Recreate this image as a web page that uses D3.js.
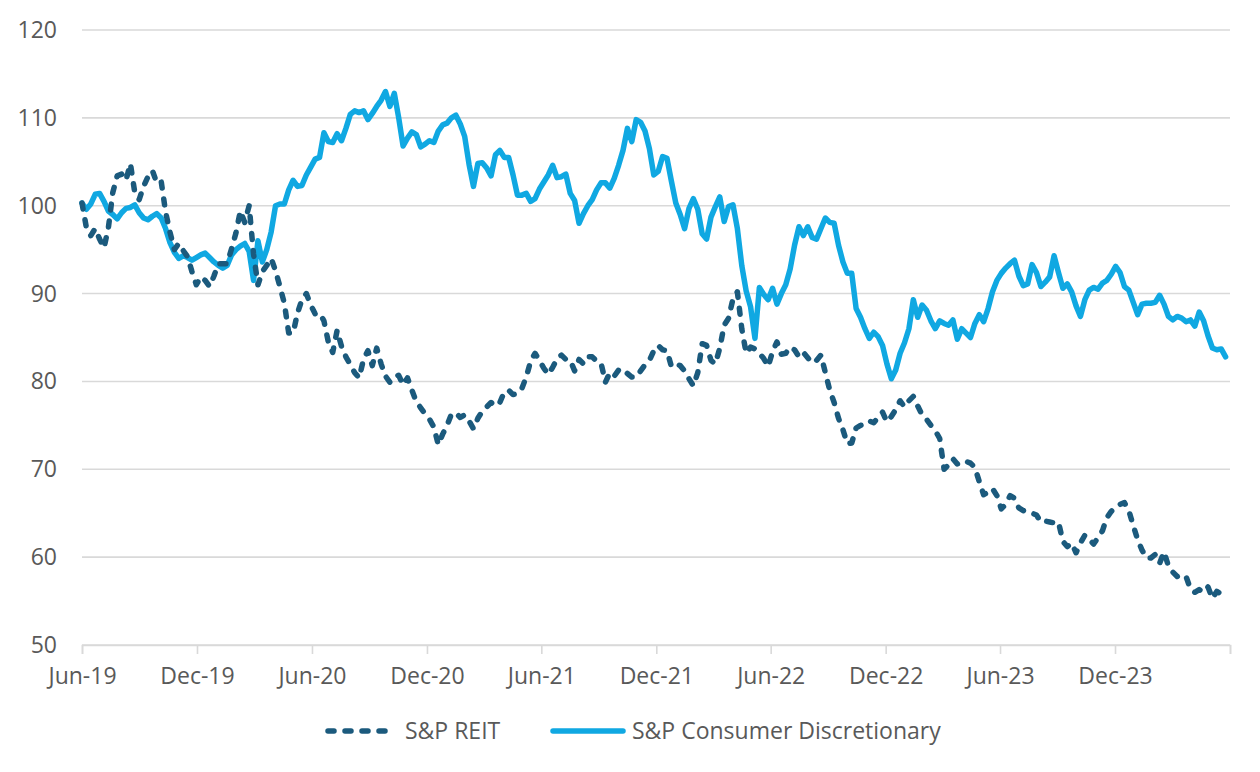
<!DOCTYPE html>
<html>
<head>
<meta charset="utf-8">
<script src="https://cdn.jsdelivr.net/npm/d3@7"></script>
<style>
  html, body { margin: 0; padding: 0; background: #ffffff; }
  svg { display: block; }
  text { font-family: "Open Sans", "Liberation Sans", Arial, sans-serif; fill: #595959; }
</style>
</head>
<body>
<svg id="chart" width="1260" height="772"></svg>
<script>
// ---------- DATA (weekly observations, first week = Jun 2019) ----------
const startDateStr = "2019-06-01";
const seriesNames = ["S&P REIT", "S&P Consumer Discretionary"];
const xTickLabels = ["Jun-19","Dec-19","Jun-20","Dec-20","Jun-21","Dec-21","Jun-22","Dec-22","Jun-23","Dec-23",""];
const yTickValues = [50, 60, 70, 80, 90, 100, 110, 120];

const reitValues = [
100.3,97.5,96.6,97.4,96.2,95.2,97.5,101.5,103.4,103.6,
102.9,104.8,101.5,100.7,102.2,103.3,104,102.6,102.8,99.3,
97,95,95.7,94.9,94.2,92.5,91,91.9,91.5,90.8,
92,93.4,93.4,93.4,95.1,96.9,99.4,98.1,100,94.5,
91,92.5,93.2,94,92.6,90.8,88.9,85.5,85.5,87.8,
89.3,90,88.7,87.7,87.8,86.9,84.5,83.3,85.8,84,
82.8,81.9,81,80.4,82.5,83.5,81.8,83.8,82,80.6,
79.9,80.5,80.7,79.6,80.4,79,77.7,77,76.3,75.7,
74.8,72.8,74,75,76.3,76.4,75.9,76.2,75.5,74.6,
75.8,76.6,77.1,77.6,77.2,77.6,78.8,79,78.5,78.6,
79.2,80.5,82.3,83.2,82.4,81.5,80.8,81.6,82.6,83,
82.5,82.4,81.2,82.5,82,82.8,82.8,82.3,82.1,79.9,
81,80.6,81.3,81.4,80.9,80.5,80.5,81.2,81.9,82.4,
83.5,84.1,83.6,83.5,81.7,82,81.8,81.2,80.3,79.5,
81,84.3,84.1,82.4,82,83.8,86.4,87.2,89.4,90.2,
86,83.2,83.9,83.7,83.2,82.6,81.7,83.4,84.5,83.1,
83.2,83.9,83.6,82.8,83.3,82.7,82.1,82.4,83,81,
79,77.6,75.8,74.5,72.9,73,74.7,75,75.1,75.5,
75.3,75.9,76.5,75.4,76,76.8,77.8,77.1,77.8,78.3,
77.2,76.2,75.7,75,74.4,73.5,70,70.5,71.2,70.6,
70.9,70.9,70.7,70.2,68.6,67.1,67.4,67.8,67,65.5,
66,67,66.7,65.6,65.3,65.1,65,64.8,64,64.1,
64,63.9,64,61.8,61.2,61.6,60.5,61.6,62.5,62,
61.5,62.2,63,64.5,65.2,65.7,66,66.2,65.3,63.6,
62,60.8,59.9,59.9,60.3,59.3,60.6,59,58.3,57.8,
58,57.8,56.4,56,56.3,56,56.6,55.3,56.1,55.8,
55.4
];

const discValues = [
100.3,99.6,100.2,101.3,101.4,100.5,99.4,99,98.5,99.2,
99.7,99.8,100.1,99.2,98.6,98.4,98.8,99.1,98.6,97.4,
95.8,94.7,94,94.3,94.1,93.8,94.1,94.4,94.6,94.1,
93.6,93.2,92.9,93.2,94.4,95,95.4,95.7,94.8,91.5,
96,93.6,95,97,100,100.2,100.2,101.8,102.9,102.2,
102.3,103.5,104.4,105.3,105.5,108.3,107.3,107.2,108.2,107.4,
108.8,110.4,110.8,110.6,110.8,109.8,110.5,111.3,112,113,
111.3,112.8,110,106.8,107.7,108.4,108.1,106.7,107,107.4,
107.2,108.5,109.2,109.4,110,110.3,109.3,107.9,104.7,102.2,
104.8,104.9,104.3,103.4,105.8,106.3,105.5,105.5,103.5,101.2,
101.2,101.4,100.5,100.8,101.9,102.7,103.5,104.6,103.2,103.3,
103.6,101.4,100.6,98,99.1,100,100.7,101.8,102.6,102.6,
102,103.1,104.6,106.3,108.8,107.3,109.8,109.5,108.5,106.5,
103.5,103.9,105.6,105.4,102.8,100.3,99,97.4,99.7,100.8,
99.6,96.8,96.2,98.7,99.9,101,98.2,99.9,100.1,97.4,
93.2,90.3,88.5,84.9,90.7,89.9,89.3,90.6,88.8,90,
91,92.8,95.5,97.6,96.6,97.6,96.4,96.2,97.4,98.6,
98.1,98,95.5,93.6,92.3,92.3,88.3,87.3,86,84.9,
85.6,85.1,84.1,82,80.3,81.3,83.2,84.4,86,89.3,
87.3,88.7,88.1,86.9,86,86.9,86.6,86.4,87,84.8,
86,85.5,85,86.6,87.6,86.8,88.3,90.2,91.5,92.3,
92.9,93.4,93.8,92,90.9,91.1,93.3,92.4,90.8,91.3,
91.9,94.3,92.4,90.6,91.1,90.2,88.6,87.4,89.3,90.4,
90.7,90.5,91.2,91.5,92.2,93.1,92.4,90.8,90.4,89,
87.6,88.8,88.9,88.9,89,89.8,88.8,87.4,87,87.4,
87.2,86.8,87,86.3,87.9,86.9,85.2,83.8,83.6,83.7,
82.8
];

// ---------- CHART ----------
const parse = d3.timeParse("%Y-%m-%d");
const startDate = parse(startDateStr);
const weekDates = reitValues.map((_, k) => d3.timeDay.offset(startDate, 7 * k));
const tickDates = xTickLabels.map((_, i) => d3.timeMonth.offset(startDate, 6 * i));

const svg = d3.select("#chart");
const margin = { left: 82, right: 30, top: 30, bottom: 127 };
const W = 1260, H = 772;
const fontSize = 23;

const x = d3.scaleTime()
  .domain([startDate, d3.timeMonth.offset(startDate, 60)])
  .range([margin.left, W - margin.right]);
const y = d3.scaleLinear()
  .domain([50, 120])
  .range([H - margin.bottom, margin.top]);

const gridColor = "#d9d9d9";

// horizontal gridlines
svg.append("g")
  .selectAll("line")
  .data(yTickValues)
  .join("line")
  .attr("x1", x.range()[0])
  .attr("x2", x.range()[1])
  .attr("y1", d => y(d))
  .attr("y2", d => y(d))
  .attr("stroke", gridColor)
  .attr("stroke-width", 1.6);

// y labels
svg.append("g")
  .selectAll("text")
  .data(yTickValues)
  .join("text")
  .attr("x", 57)
  .attr("y", d => y(d))
  .attr("dy", "0.35em")
  .attr("text-anchor", "end")
  .attr("font-size", fontSize)
  .text(d => d);

// x axis
const xAxis = d3.axisBottom(x)
  .tickValues(tickDates)
  .tickSize(9)
  .tickPadding(14)
  .tickFormat((d, i) => xTickLabels[i]);

const gx = svg.append("g")
  .attr("transform", `translate(0,${y(50)})`)
  .call(xAxis);
gx.select(".domain").attr("stroke", gridColor).attr("stroke-width", 1.6);
gx.selectAll(".tick line").attr("stroke", gridColor).attr("stroke-width", 1.6);
gx.selectAll(".tick text")
  .attr("font-size", fontSize)
  .attr("font-family", "Open Sans, Liberation Sans, Arial, sans-serif")
  .attr("fill", "#595959");

const reitColor = "#1b5a7d";
const discColor = "#10a8e2";

const line = d3.line()
  .x(d => x(d.date))
  .y(d => y(d.value))
  .curve(d3.curveLinear);

const reitData = reitValues.map((v, k) => ({ date: weekDates[k], value: v }));
const discData = discValues.map((v, k) => ({ date: weekDates[k], value: v }));

svg.append("path")
  .datum(discData)
  .attr("d", line)
  .attr("fill", "none")
  .attr("stroke", discColor)
  .attr("stroke-width", 5.5)
  .attr("stroke-linejoin", "round")
  .attr("stroke-linecap", "round");

svg.append("path")
  .datum(reitData)
  .attr("d", line)
  .attr("fill", "none")
  .attr("stroke", reitColor)
  .attr("stroke-width", 5.5)
  .attr("stroke-dasharray", "6,11")
  .attr("stroke-linejoin", "round")
  .attr("stroke-linecap", "round");

// legend
const legendY = 731;
const legend = svg.append("g");
const legendItems = [
  { name: seriesNames[0], color: reitColor, dash: "6,11", x1: 328, x2: 393, tx: 405 },
  { name: seriesNames[1], color: discColor, dash: null, x1: 553, x2: 623, tx: 632 }
];
legendItems.forEach(it => {
  legend.append("line")
    .attr("x1", it.x1).attr("x2", it.x2)
    .attr("y1", legendY).attr("y2", legendY)
    .attr("stroke", it.color)
    .attr("stroke-width", 5.5)
    .attr("stroke-linecap", "round")
    .attr("stroke-dasharray", it.dash);
  legend.append("text")
    .attr("x", it.tx)
    .attr("y", legendY)
    .attr("dy", "0.35em")
    .attr("font-size", fontSize)
    .text(it.name);
});
</script>
</body>
</html>
